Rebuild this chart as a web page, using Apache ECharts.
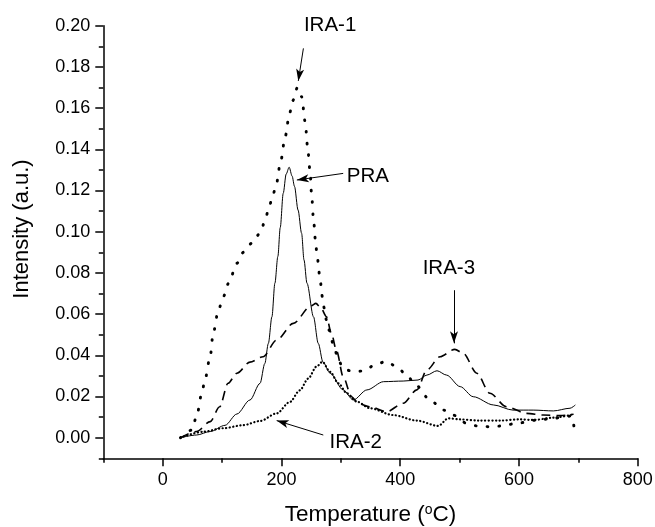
<!DOCTYPE html>
<html><head><meta charset="utf-8">
<script src="https://cdn.jsdelivr.net/npm/echarts@6/dist/echarts.min.js"></script>
<style>html,body{margin:0;padding:0;background:#fff}#c{width:655px;height:527px}</style>
</head><body><div id="c"></div>
<script>
// ---- tick values ----
const xTickValues = [0, 200, 400, 600, 800];
const xMinorValues = [-100, 100, 300, 500, 700];
const yTickValues = [0, 0.02, 0.04, 0.06, 0.08, 0.10, 0.12, 0.14, 0.16, 0.18, 0.20];
const yMinorValues = [-0.01, 0.01, 0.03, 0.05, 0.07, 0.09, 0.11, 0.13, 0.15, 0.17, 0.19];

// ---- PRA (solid) ----
const praT = [30, 57, 80, 105, 125, 147, 164, 172, 178, 184, 189, 194, 198, 203, 208, 213, 218, 222, 228, 234, 238, 243, 254, 262, 270, 282, 304, 321, 344, 372, 405, 430, 445, 462, 478, 501, 523, 557, 590, 624, 658, 686, 695];
const praI = [0.000, 0.0013, 0.003, 0.006, 0.0115, 0.0183, 0.0264, 0.036, 0.0458, 0.0587, 0.075, 0.088, 0.102, 0.1186, 0.128, 0.1313, 0.127, 0.122, 0.1105, 0.0992, 0.0863, 0.075, 0.0587, 0.0458, 0.0367, 0.0313, 0.0232, 0.0183, 0.0232, 0.0272, 0.0275, 0.028, 0.0304, 0.0325, 0.0304, 0.0248, 0.0199, 0.0159, 0.0134, 0.0134, 0.013, 0.0143, 0.0159];

// ---- IRA-1 (sparse dots) ----
const ira1T = [30, 49, 57, 66, 71, 80, 85, 94, 102, 111, 125, 136, 150, 164, 172, 178, 185, 191, 199, 206, 214, 219, 227, 234, 240, 244, 248, 251, 254, 258, 260, 266, 268, 271, 276, 280, 287, 296, 304, 321, 338, 358, 376, 394, 408, 428, 450, 473, 489, 512, 530, 551, 571, 596, 630, 660, 688, 693];
const ira1I = [0.000, 0.0037, 0.0102, 0.0216, 0.028, 0.0393, 0.0507, 0.062, 0.0684, 0.075, 0.0847, 0.090, 0.0944, 0.0992, 0.1049, 0.1105, 0.117, 0.1227, 0.1345, 0.1458, 0.1578, 0.1636, 0.170, 0.1655, 0.1534, 0.1413, 0.130, 0.1173, 0.1057, 0.0935, 0.0879, 0.075, 0.0693, 0.0636, 0.0571, 0.0523, 0.0458, 0.0377, 0.0335, 0.032, 0.0324, 0.0353, 0.0371, 0.0345, 0.0313, 0.0251, 0.0183, 0.0134, 0.011, 0.007, 0.0057, 0.0053, 0.0057, 0.007, 0.0085, 0.0095, 0.0105, 0.005];

// ---- IRA-2 (dense dots) ----
const ira2T = [30, 68, 102, 136, 164, 192, 214, 231, 245, 259, 269, 282, 296, 310, 327, 349, 388, 428, 464, 481, 500, 534, 568, 602, 624, 658, 692];
const ira2I = [0.000, 0.0029, 0.0046, 0.0061, 0.0081, 0.0118, 0.0173, 0.023, 0.0287, 0.0345, 0.0368, 0.032, 0.0264, 0.0216, 0.0175, 0.0143, 0.011, 0.0083, 0.0057, 0.0094, 0.0089, 0.0083, 0.0083, 0.0089, 0.0086, 0.0097, 0.0114];

// ---- IRA-3 (dashed) ----
const ira3T = [30, 57, 80, 96, 110, 125, 147, 169, 192, 220, 250, 258, 266, 276, 284, 293, 304, 318, 330, 349, 377, 405, 428, 445, 467, 492, 506, 529, 551, 579, 613, 641, 669, 692];
const ira3I = [0.000, 0.003, 0.0078, 0.015, 0.0264, 0.0313, 0.0367, 0.0393, 0.0474, 0.0555, 0.064, 0.0652, 0.0632, 0.0587, 0.0507, 0.042, 0.0296, 0.0199, 0.0165, 0.015, 0.0126, 0.0167, 0.0232, 0.0329, 0.0393, 0.0429, 0.041, 0.0313, 0.0216, 0.015, 0.0118, 0.011, 0.0107, 0.0114];

const FONT = '"Liberation Sans", Arial, Helvetica, sans-serif';
const pairs = (xs, ys) => xs.map((x, i) => [x, ys[i]]);
const axisLineStyle = { color: '#000', width: 1.5 };

function arrow(from, to) {
  return {
    silent: true, symbol: ['none', 'arrow'], symbolSize: [6, 12],
    lineStyle: { type: 'solid', width: 1, color: '#000' },
    label: { show: false }, animation: false,
    data: [[{ coord: from }, { coord: to }]]
  };
}
function tag(name, at, offset) {
  return {
    silent: true, symbol: 'circle', symbolSize: 0, animation: false,
    label: { show: true, position: 'inside', formatter: '{b}', color: '#000', fontSize: 20.5, fontFamily: FONT, offset: offset || [0, 0] },
    data: [{ name: name, coord: at }]
  };
}
function lineSeries(name, xs, ys, ls, extra) {
  return Object.assign({
    name: name, type: 'line', xAxisIndex: 0, yAxisIndex: 0,
    data: pairs(xs, ys), showSymbol: false, symbol: 'none',
    smooth: 0.3, smoothMonotone: 'x',
    lineStyle: Object.assign({ color: '#000' }, ls), itemStyle: { color: '#000' }
  }, extra || {});
}

const chart = echarts.init(document.getElementById('c'), null, { renderer: 'canvas' });
chart.setOption({
  animation: false,
  backgroundColor: '#fff',
  textStyle: { fontFamily: FONT },
  grid: { left: 103.3, right: 17.3, top: 25.7, bottom: 68.7, containLabel: false, outerBoundsMode: 'none' },
  xAxis: [
    {
      type: 'value', min: -100, max: 800, position: 'bottom',
      axisLine: { show: true, onZero: false, lineStyle: axisLineStyle },
      axisTick: { show: true, inside: false, length: 8, customValues: xTickValues, lineStyle: axisLineStyle },
      axisLabel: { show: true, customValues: xTickValues, color: '#000', fontSize: 18, fontFamily: FONT, margin: 13 },
      splitLine: { show: false },
      name: 'Temperature ({sup|o}C)', nameLocation: 'middle', nameGap: 45,
      nameTextStyle: { color: '#000', fontSize: 22.5, fontFamily: FONT,
        rich: { sup: { fontSize: 14, fontFamily: FONT, color: '#000', verticalAlign: 'top' } } }
    },
    {
      type: 'value', min: -100, max: 800, position: 'bottom',
      axisLine: { show: false, onZero: false },
      axisTick: { show: true, inside: false, length: 4.5, customValues: xMinorValues, lineStyle: axisLineStyle },
      axisLabel: { show: false }, splitLine: { show: false }
    }
  ],
  yAxis: [
    {
      type: 'value', min: -0.01, max: 0.20, position: 'left',
      axisLine: { show: true, onZero: false, lineStyle: axisLineStyle },
      axisTick: { show: true, inside: false, length: 8, customValues: yTickValues, lineStyle: axisLineStyle },
      axisLabel: { show: true, customValues: yTickValues, formatter: v => v.toFixed(2), color: '#000', fontSize: 18, fontFamily: FONT, margin: 13 },
      splitLine: { show: false },
      name: 'Intensity (a.u.)', nameLocation: 'middle', nameGap: 70, nameRotate: 90,
      nameTextStyle: { color: '#000', fontSize: 22, fontFamily: FONT, padding: [0, 0, 0, 26] }
    },
    {
      type: 'value', min: -0.01, max: 0.20, position: 'left',
      axisLine: { show: false, onZero: false },
      axisTick: { show: true, inside: false, length: 4.5, customValues: yMinorValues, lineStyle: axisLineStyle },
      axisLabel: { show: false }, splitLine: { show: false }
    }
  ],
  series: [
    lineSeries('PRA', praT, praI, { width: 1, type: 'solid' },
      { markLine: arrow([304, 0.1283], [226, 0.1251]), markPoint: tag('PRA', [345.6, 0.1267]) }),
    lineSeries('IRA-1', ira1T, ira1I, { width: 2.9, type: [0.8, 11], cap: 'round' },
      { markLine: arrow([237, 0.189], [228.4, 0.1732]), markPoint: tag('IRA-1', [282, 0.1975], [0, -6]) }),
    lineSeries('IRA-2', ira2T, ira2I, { width: 2.2, type: [0.2, 3.4], cap: 'round' },
      { markLine: arrow([270.5, 0.0013], [192, 0.0083]), markPoint: tag('IRA-2', [325, -0.0006], [0, 3]) }),
    lineSeries('IRA-3', ira3T, ira3I, { width: 1.6, type: [9, 6] },
      { markLine: arrow([490.6, 0.0716], [490.6, 0.0458]), markPoint: tag('IRA-3', [482, 0.083], [0, 2]) })
  ]
});
</script>
</body></html>
